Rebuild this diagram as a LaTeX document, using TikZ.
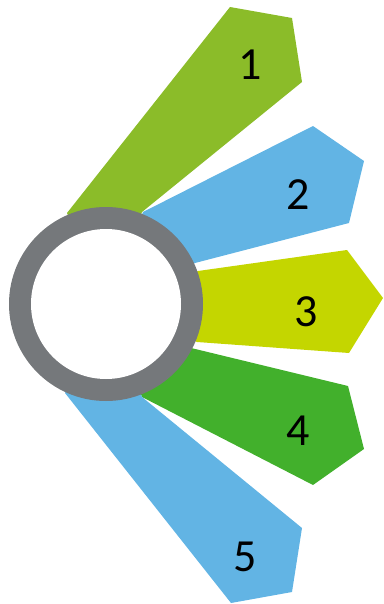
\documentclass[tikz,border=0pt]{standalone}
\usepackage{fontspec}
\setmainfont{Carlito}
\definecolor{cA}{HTML}{8BBC29}
\definecolor{cB}{HTML}{62B4E4}
\definecolor{cC}{HTML}{C4D600}
\definecolor{cD}{HTML}{42B02C}
\definecolor{ring}{HTML}{75787B}
\begin{document}
\begin{tikzpicture}[x=1pt,y=-1pt,
  petal/.style={draw=none},
  num/.style={font=\fontsize{46}{46}\selectfont, text=black, inner sep=0pt}]
\useasboundingbox (0,0) rectangle (383,604);
\coordinate (c) at (106,304);
\fill[cA] (c) -- (67,213) -- (230,7) -- (292,18) -- (302,82) -- (142,212) -- cycle;
\fill[cB] (c) -- (143,212) -- (313,126) -- (364,161) -- (349,223) -- (195,263) -- cycle;
\fill[cC] (c) -- (198,271) -- (347,250) -- (383,298) -- (349,353) -- (197,342) -- cycle;
\fill[cD] (c) -- (187,347) -- (348,386) -- (364,449) -- (313,485) -- (142,397) -- cycle;
\fill[cB] (c) -- (142,397) -- (302,528) -- (292,592) -- (231,603) -- (65,393) -- cycle;
\fill[ring] (c) circle[radius=97];
\fill[white] (c) circle[radius=75];
\node[num] (n1) at (250,65) {1};
\node[num] (n2) at (298,195) {2};
\node[num] (n3) at (306,312) {3};
\node[num] (n4) at (298,431) {4};
\node[num] (n5) at (245,557) {5};
\end{tikzpicture}
\end{document}
